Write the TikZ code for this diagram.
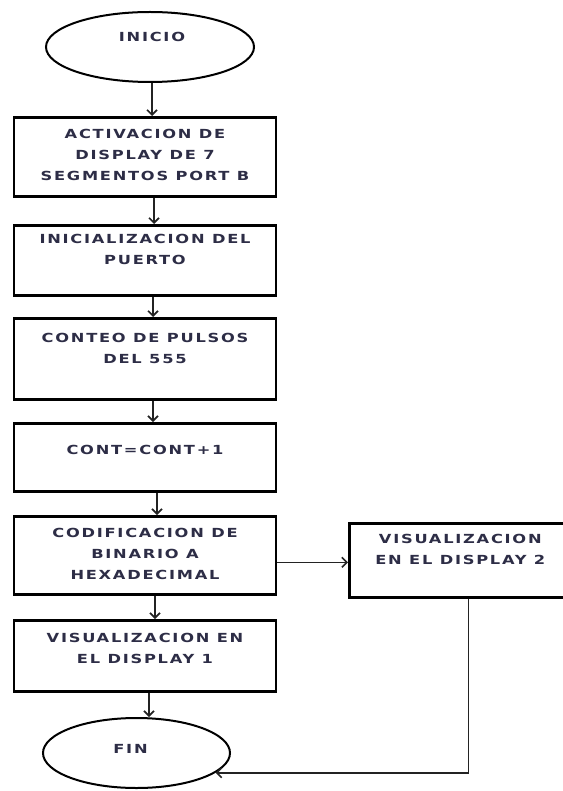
\documentclass[tikz,border=0pt]{standalone}
\usepackage{fontspec}
\usetikzlibrary{shapes.geometric,arrows.meta}
\newfontfamily\boxfont{DejaVu Sans}[FakeStretch=1.3,LetterSpace=14]
\definecolor{txt}{RGB}{45,45,70}
\definecolor{conn}{RGB}{35,35,35}
\newcommand\btxt[4][255pt]{\parbox[c][#2][t]{#1}{\centering\baselineskip=21pt\relax\rule{0pt}{#3}#4}}
\tikzset{
  flowbox/.style={draw=black, line width=2.6pt, rectangle, inner sep=0pt,
    minimum width=262pt, anchor=north, font=\boxfont\bfseries\fontsize{12.5}{21}\selectfont, text=txt},
  term/.style={draw=black, line width=2pt, ellipse, inner sep=0pt},
  termtxt/.style={font=\boxfont\bfseries\fontsize{12.5}{21}\selectfont, text=txt},
  arr/.style={draw=conn, line width=1.6pt, -{Straight Barb[length=5pt,width=10pt]}}
}
\begin{document}
\begin{tikzpicture}[x=1pt,y=-1pt]
\useasboundingbox (0,0) rectangle (562,791);
\node[term, minimum width=208pt, minimum height=70pt,
  label={[name=inicioT, termtxt, yshift=10pt, xshift=2pt]center:INICIO}] (inicio) at (150,47) {};
\node[flowbox] (b1) at (145,116) {\btxt{79pt}{21.5pt}{ACTIVACION DE\\DISPLAY DE 7\\SEGMENTOS PORT B}};
\node[flowbox] (b2) at (145,224) {\btxt{70pt}{18pt}{INICIALIZACION DEL\\PUERTO}};
\node[flowbox] (b3) at (145,317) {\btxt{81pt}{24pt}{CONTEO DE PULSOS\\DEL 555}};
\node[flowbox] (b4) at (145,422) {\btxt{68pt}{31pt}{CONT=CONT+1}};
\node[flowbox] (b5) at (145,515) {\btxt{78pt}{21.5pt}{CODIFICACION DE\\BINARIO A\\HEXADECIMAL}};
\node[flowbox] (b6) at (145,619) {\btxt{71pt}{22.5pt}{VISUALIZACION EN\\EL DISPLAY 1}};
\node[flowbox, minimum width=222pt, anchor=north west] (r) at (348,522) {\btxt[215pt]{74pt}{20.5pt}{VISUALIZACION\\EN EL DISPLAY 2}};
\node[term, minimum width=187pt, minimum height=70pt,
  label={[name=finT, termtxt, yshift=4pt, xshift=-6pt]center:FIN}] (fin) at (136.5,753) {};
\draw[arr] ([xshift=2pt]inicio.south) -- ([xshift=2pt]inicio.south |- b1.north);
\draw[arr] ([xshift=9pt]b1.south) -- ([xshift=9pt]b1.south |- b2.north);
\draw[arr] ([xshift=8pt]b2.south) -- ([xshift=8pt]b2.south |- b3.north);
\draw[arr] ([xshift=8pt]b3.south) -- ([xshift=8pt]b3.south |- b4.north);
\draw[arr] ([xshift=12pt]b4.south) -- ([xshift=12pt]b4.south |- b5.north);
\draw[arr] ([xshift=10pt]b5.south) -- ([xshift=10pt]b5.south |- b6.north);
\draw[arr] ([xshift=4pt]b6.south) -- ([xshift=4pt]b6.south |- fin.north);
\draw[arr] ([yshift=-7pt]b5.east) -- ([yshift=-7pt]b5.east -| r.west);
\draw[arr] ([xshift=8pt]r.south) |- (fin.-14);
\end{tikzpicture}
\end{document}
